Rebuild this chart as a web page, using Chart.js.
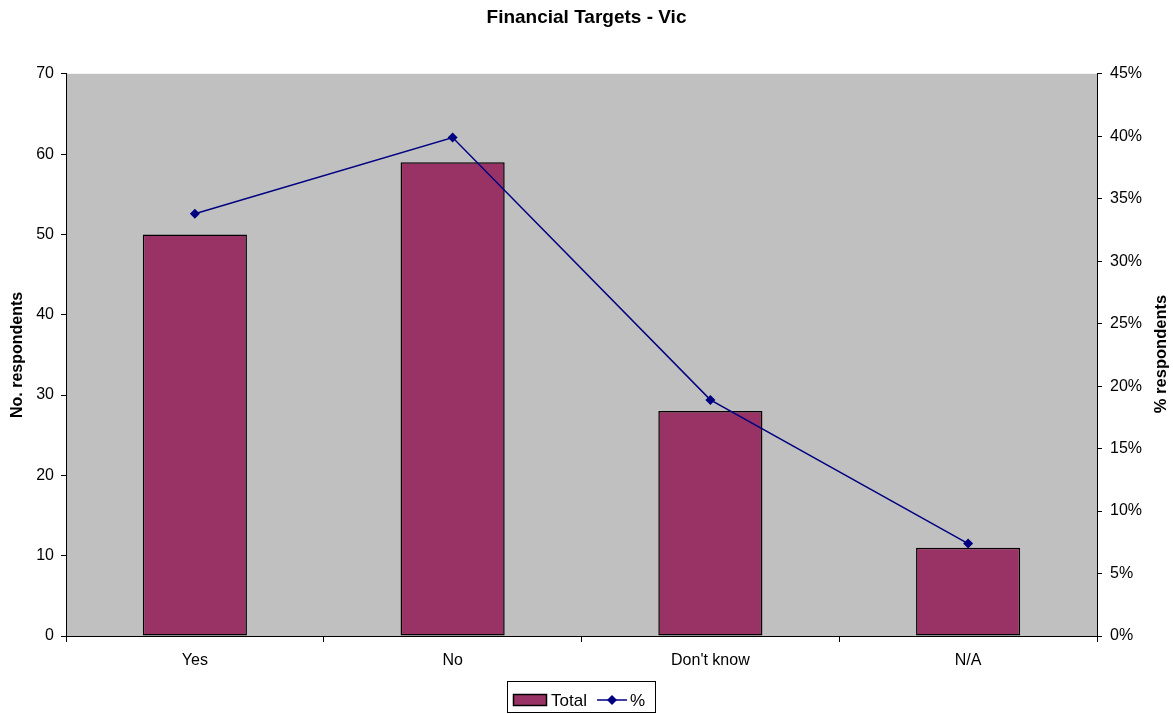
<!DOCTYPE html>
<html>
<head>
<meta charset="utf-8">
<script src="https://cdn.jsdelivr.net/npm/chart.js@4/dist/chart.umd.min.js"></script>
<style>
  html, body { margin: 0; padding: 0; background: #fff; }
  #wrap { width: 1173px; height: 714px; position: relative; }
</style>
</head>
<body>
<div id="wrap"><canvas id="chart" width="1173" height="714"></canvas></div>
<script>
const categories = ['Yes', 'No', "Don't know", 'N/A'];
const totals = [50, 59, 28, 11];
const percents = [33.8, 39.9, 18.9, 7.4];
const countTicks = [0, 10, 20, 30, 40, 50, 60, 70];
const pctTicks = [0, 5, 10, 15, 20, 25, 30, 35, 40, 45];

const FONT = 'Arial, "Liberation Sans", sans-serif';
const BAR = '#993366';
const LINE = '#000080';

const plotBackground = {
  id: 'plotBackground',
  beforeDraw(chart) {
    const { ctx, chartArea: a } = chart;
    ctx.save();
    ctx.fillStyle = '#c0c0c0';
    ctx.fillRect(a.left, a.top, a.right - a.left, a.bottom - a.top);
    ctx.restore();
  },
};

const extras = {
  id: 'extras',
  afterDraw(chart) {
    const { ctx } = chart;
    ctx.save();
    // right axis title, reads bottom to top
    ctx.font = `bold 16.5px ${FONT}`;
    ctx.fillStyle = '#000';
    ctx.textAlign = 'center';
    ctx.textBaseline = 'middle';
    ctx.translate(1161, 354);
    ctx.rotate(-Math.PI / 2);
    ctx.fillText('% respondents', 0, 0);
    ctx.restore();

    // legend box
    ctx.save();
    const bx = 507.5, by = 681.5, bw = 148, bh = 31;
    ctx.fillStyle = '#fff';
    ctx.fillRect(bx, by, bw, bh);
    ctx.strokeStyle = '#000';
    ctx.lineWidth = 1;
    ctx.strokeRect(bx, by, bw, bh);
    ctx.fillStyle = BAR;
    ctx.fillRect(513.5, 694.5, 33, 11);
    ctx.lineWidth = 1.5;
    ctx.strokeRect(513.5, 694.5, 33, 11);
    ctx.font = `17px ${FONT}`;
    ctx.fillStyle = '#000';
    ctx.textAlign = 'left';
    ctx.textBaseline = 'middle';
    ctx.fillText('Total', 551, 701);
    ctx.strokeStyle = LINE;
    ctx.lineWidth = 1.5;
    ctx.beginPath();
    ctx.moveTo(597, 700);
    ctx.lineTo(627, 700);
    ctx.stroke();
    ctx.fillStyle = LINE;
    ctx.beginPath();
    ctx.moveTo(612, 695);
    ctx.lineTo(617, 700);
    ctx.lineTo(612, 705);
    ctx.lineTo(607, 700);
    ctx.closePath();
    ctx.fill();
    ctx.fillStyle = '#000';
    ctx.fillText('%', 630, 701);
    ctx.restore();
  },
};

new Chart(document.getElementById('chart'), {
  type: 'bar',
  data: {
    labels: categories,
    datasets: [
      {
        type: 'line',
        label: '%',
        data: percents,
        yAxisID: 'y1',
        borderColor: LINE,
        backgroundColor: LINE,
        borderWidth: 1.5,
        pointStyle: 'rectRot',
        pointRadius: 5,
        pointBorderWidth: 0,
        tension: 0,
        order: 0,
      },
      {
        label: 'Total',
        data: totals,
        yAxisID: 'y',
        backgroundColor: BAR,
        borderColor: '#000',
        borderWidth: 1.5,
        borderSkipped: false,
        barPercentage: 0.404,
        categoryPercentage: 1,
        order: 1,
      },
    ],
  },
  options: {
    responsive: false,
    animation: false,
    layout: { padding: 0 },
    plugins: {
      legend: { display: false },
      tooltip: { enabled: false },
      title: {
        display: true,
        text: 'Financial Targets - Vic',
        color: '#000',
        font: { family: FONT, size: 19, weight: 'bold' },
        padding: { top: 6, bottom: 45 },
      },
    },
    scales: {
      x: {
        offset: true,
        grid: { offset: true, drawOnChartArea: false, color: '#000', tickLength: 6 },
        border: { color: '#000', width: 1 },
        ticks: { color: '#000', font: { family: FONT, size: 16 }, padding: 9, maxRotation: 0 },
        afterFit(scale) { scale.height = 78; },
      },
      y: {
        position: 'left',
        min: 0,
        max: 70,
        afterBuildTicks(scale) { scale.ticks = countTicks.map((v) => ({ value: v })); },
        grid: { drawOnChartArea: false, color: '#000', tickLength: 5 },
        border: { color: '#000', width: 1 },
        ticks: { color: '#000', font: { family: FONT, size: 16 }, padding: 7 },
        title: {
          display: true,
          text: 'No. respondents',
          color: '#000',
          font: { family: FONT, size: 16, weight: 'bold' },
          padding: { top: 8, bottom: 0 },
        },
        afterFit(scale) { scale.width = 66; },
      },
      y1: {
        position: 'right',
        min: 0,
        max: 45,
        afterBuildTicks(scale) { scale.ticks = pctTicks.map((v) => ({ value: v })); },
        grid: { drawOnChartArea: false, color: '#000', tickLength: 5 },
        border: { color: '#000', width: 1 },
        ticks: {
          color: '#000',
          font: { family: FONT, size: 16 },
          padding: 8,
          callback: (v) => `${v}%`,
        },
        afterFit(scale) { scale.width = 76; },
      },
    },
  },
  plugins: [plotBackground, extras],
});
</script>
</body>
</html>
